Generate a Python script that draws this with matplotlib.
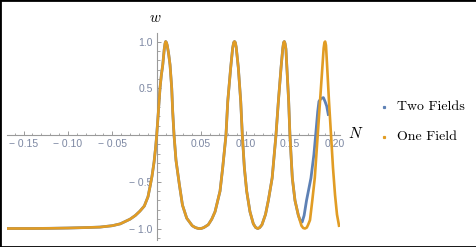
import matplotlib
matplotlib.use("Agg")
import matplotlib.pyplot as plt
from matplotlib.lines import Line2D
from matplotlib.patches import Rectangle
from matplotlib.ticker import MultipleLocator

plt.rcParams["mathtext.fontset"] = "cm"

BLUE = "#5E81B5"
ORANGE = "#E19C24"
TICK_TXT = "#7c87a2"
AXIS = "#9a9a9a"

# ── Data ──────────────────────────────────────────────────────────────────────

# common part of both runs
n_shared = [-0.1686, -0.14, -0.12, -0.10, -0.08, -0.064, -0.05, -0.041, -0.030,
            -0.024, -0.019, -0.014, -0.0098, -0.0075, -0.0053, -0.003, -0.0012,
            0.0, 0.0018, 0.0037, 0.0052, 0.0068, 0.0085, 0.0094, 0.0101, 0.0109,
            0.0118, 0.0134, 0.015, 0.0169, 0.018, 0.0195, 0.0217, 0.0255, 0.029,
            0.0338, 0.040, 0.0435, 0.047, 0.050, 0.053, 0.0555, 0.058, 0.062,
            0.0657, 0.0713, 0.0743, 0.078, 0.080, 0.0833, 0.0855, 0.0867, 0.0876,
            0.0885, 0.0895, 0.0919, 0.0946, 0.0964, 0.0987, 0.1013, 0.105, 0.1088,
            0.1115, 0.1138, 0.116, 0.1185, 0.1225, 0.1257, 0.130, 0.1343, 0.137,
            0.140, 0.142, 0.1429, 0.1437, 0.1445, 0.1455, 0.1466, 0.1486, 0.150,
            0.1527, 0.1557, 0.1595]
w_shared = [-1.0, -1.0, -0.998, -0.995, -0.99, -0.985, -0.97, -0.95, -0.90,
            -0.86, -0.815, -0.76, -0.66, -0.55, -0.44, -0.29, -0.13,
            0.0, 0.24, 0.5, 0.64, 0.75, 0.92, 0.98, 1.0, 0.99,
            0.96, 0.87, 0.75, 0.5, 0.25, 0.0, -0.27, -0.53, -0.75,
            -0.89, -0.97, -0.99, -1.0, -1.0, -0.99, -0.975, -0.96, -0.90,
            -0.82, -0.6, -0.35, 0.0, 0.36, 0.72, 0.93, 0.99, 1.0,
            0.99, 0.94, 0.72, 0.36, 0.0, -0.35, -0.6, -0.82, -0.95,
            -0.99, -1.0, -0.99, -0.96, -0.85, -0.7, -0.46, 0.0, 0.36,
            0.72, 0.93, 0.99, 1.0, 0.98, 0.92, 0.72, 0.36, 0.0,
            -0.46, -0.7, -0.86]

# where the runs split
n_one_end = [0.163, 0.165, 0.167, 0.169, 0.1705, 0.1726, 0.1752, 0.178, 0.1813,
             0.1839, 0.1865, 0.188, 0.1889, 0.1897, 0.1906, 0.192, 0.194, 0.1963,
             0.1985, 0.2008, 0.203, 0.2053]
w_one_end = [-0.97, -0.995, -1.0, -0.99, -0.96, -0.91, -0.7, -0.46, 0.0,
             0.36, 0.72, 0.93, 0.99, 1.0, 0.96, 0.72, 0.36, 0.0,
             -0.35, -0.64, -0.85, -0.97]

n_two_end = [0.1615, 0.1638, 0.166, 0.1687, 0.1737, 0.177, 0.179, 0.1813, 0.1827,
             0.185, 0.1877, 0.1895, 0.1914, 0.1932]
w_two_end = [-0.91, -0.93, -0.86, -0.7, -0.46, -0.21, 0.0, 0.25, 0.36,
             0.39, 0.40, 0.36, 0.31, 0.22]

x_ticks = [-0.15, -0.10, -0.05, 0.05, 0.10, 0.15, 0.20]
x_labels = ["\u2212 0.15", "\u2212 0.10", "\u2212 0.05", "0.05", "0.10", "0.15", "0.20"]
y_ticks = [-1.0, -0.5, 0.5, 1.0]
y_labels = ["\u2212 1.0", "\u2212 0.5", "0.5", "1.0"]

n_one = n_shared + n_one_end
w_one = w_shared + w_one_end
n_two = n_shared + n_two_end
w_two = w_shared + w_two_end

# ── Figure ────────────────────────────────────────────────────────────────────

W, H = 477, 247
fig = plt.figure(figsize=(W / 100, H / 100), dpi=100)
ax = fig.add_axes([7 / W, 7 / H, 333 / W, 206.7 / H])
ax.patch.set_alpha(0)

ax.plot(n_two, w_two, color=BLUE, lw=2.0, solid_joinstyle="round", zorder=3)
ax.plot(n_one, w_one, color=ORANGE, lw=1.9, solid_joinstyle="round", zorder=4)

ax.set_xlim(-0.1686, 0.2064)
ax.set_ylim(-1.123, 1.088)

for side in ("top", "right"):
    ax.spines[side].set_visible(False)
for side in ("left", "bottom"):
    ax.spines[side].set_position(("data", 0))
    ax.spines[side].set_color(AXIS)
    ax.spines[side].set_linewidth(0.8)

ax.set_xticks(x_ticks)
ax.set_xticklabels(x_labels)
ax.set_yticks(y_ticks)
ax.set_yticklabels(y_labels)
ax.xaxis.set_minor_locator(MultipleLocator(0.01))
ax.yaxis.set_minor_locator(MultipleLocator(0.1))
ax.tick_params(which="major", direction="in", length=3.2, width=0.7, color=AXIS,
               labelsize=7.5, labelcolor=TICK_TXT, pad=3)
ax.tick_params(which="minor", direction="in", length=1.8, width=0.6, color=AXIS)
for lab in ax.get_xticklabels() + ax.get_yticklabels():
    lab.set_fontfamily("Liberation Sans")

# axis names
fig.text(155 / W, 1 - 17 / H, r"$w$", fontsize=11, ha="center", va="center")
fig.text(356 / W, 1 - 133 / H, r"$N$", fontsize=11, ha="center", va="center")

# legend
for (y, col, label) in [(107, BLUE, "Two Fields"), (137, ORANGE, "One Field")]:
    fig.add_artist(Line2D([384.5 / W], [1 - y / H], transform=fig.transFigure,
                          marker="s", markersize=1.3, color=col, linestyle="none"))
    fig.text(397 / W, 1 - y / H, label, fontsize=10, fontfamily="cmr10",
             ha="left", va="center")

fig.add_artist(Rectangle((0, 0), 1, 1, transform=fig.transFigure, fill=False,
                         edgecolor="black", linewidth=2))

fig.savefig("out.png", dpi=100)
